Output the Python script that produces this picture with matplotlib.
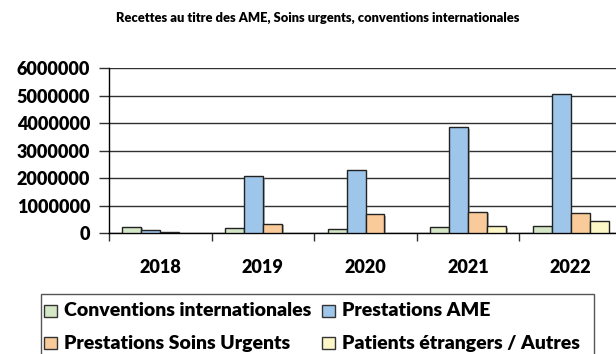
import matplotlib
matplotlib.use("Agg")
import matplotlib.pyplot as plt
import matplotlib.patheffects as pe
from matplotlib.patches import Rectangle
import numpy as np

plt.rcParams['font.family'] = ['Lato', 'DejaVu Sans']
plt.rcParams['font.weight'] = 'heavy'
WEIGHT = 'heavy'

years = ["2018", "2019", "2020", "2021", "2022"]
series_names = ["Conventions internationales", "Prestations AME",
                "Prestations Soins Urgents", "Patients étrangers / Autres"]
conventions = [230000, 180000, 160000, 210000, 250000]
prestations_ame = [110000, 2080000, 2300000, 3860000, 5060000]
soins_urgents = [20000, 340000, 690000, 780000, 730000]
patients_autres = [0, 0, 0, 240000, 430000]
colors = ["#d3e6c6", "#9dc6ea", "#f9cb9a", "#fdf7c8"]
yticks = [0, 1000000, 2000000, 3000000, 4000000, 5000000, 6000000]

W, H = 616, 354
fig = plt.figure(figsize=(W / 100, H / 100), dpi=100)
ax = fig.add_axes([109 / W, 1 - 233 / H, 513 / W, (233 - 68.3) / H])

values = [conventions, prestations_ame, soins_urgents, patients_autres]
x = np.arange(len(years))
bw = 0.185
shadow = [pe.withSimplePatchShadow(offset=(1.2, -1.2), shadow_rgbFace="#808080", alpha=0.6)]
for i, (vals, c) in enumerate(zip(values, colors)):
    bars = ax.bar(x - 1.5 * bw + i * bw, vals, width=bw, color=c, edgecolor="#222222",
                  linewidth=1.0, zorder=3, path_effects=shadow)
    for b, v in zip(bars, vals):
        if v == 0:
            b.set_visible(False)

ax.set_xlim(-0.5, len(years) - 0.5)
ax.set_ylim(0, 6000000)
ax.set_yticks(yticks)
ax.set_yticklabels([str(v) for v in yticks], fontsize=13, fontweight=WEIGHT)
ax.yaxis.grid(True, color="#303030", linewidth=1.0, zorder=0)
ax.set_axisbelow(True)
ax.tick_params(axis='y', length=7, width=1.0, pad=6.5, color="#303030")

ax.set_xticks(x)
ax.set_xticklabels(years, fontsize=13, fontweight=WEIGHT)
ax.set_xticks(np.arange(len(years) + 1) - 0.5, minor=True)
ax.tick_params(axis='x', which='major', length=0, pad=19)
ax.tick_params(axis='x', which='minor', length=6, width=1.0, direction='out', color="#303030")

for s in ['top', 'right']:
    ax.spines[s].set_visible(False)
for s in ['left', 'bottom']:
    ax.spines[s].set_linewidth(1.0)
    ax.spines[s].set_color("black")

fig.text(318 / W, 1 - 18 / H, "Recettes au titre des AME, Soins urgents, conventions internationales",
         ha='center', va='center', fontsize=9.3, fontweight=WEIGHT)

# legend box
fig.patches.append(Rectangle((41 / W, -0.05), (594 - 41) / W, (1 - 294 / H) + 0.05,
                             transform=fig.transFigure, facecolor='white',
                             edgecolor='#555555', linewidth=1.0))
legend_pos = [(44, 311), (322, 311), (44, 343), (322, 343)]
for (lx, ly), name, c in zip(legend_pos, series_names, colors):
    fig.patches.append(Rectangle((lx / W, 1 - (ly + 6) / H), 13 / W, 12 / H,
                                 transform=fig.transFigure, facecolor=c,
                                 edgecolor='#333333', linewidth=1.0))
    fig.text((lx + 20) / W, 1 - ly / H, name, ha='left', va='center',
             fontsize=14, fontweight=WEIGHT)

fig.savefig("out.png", dpi=100)
